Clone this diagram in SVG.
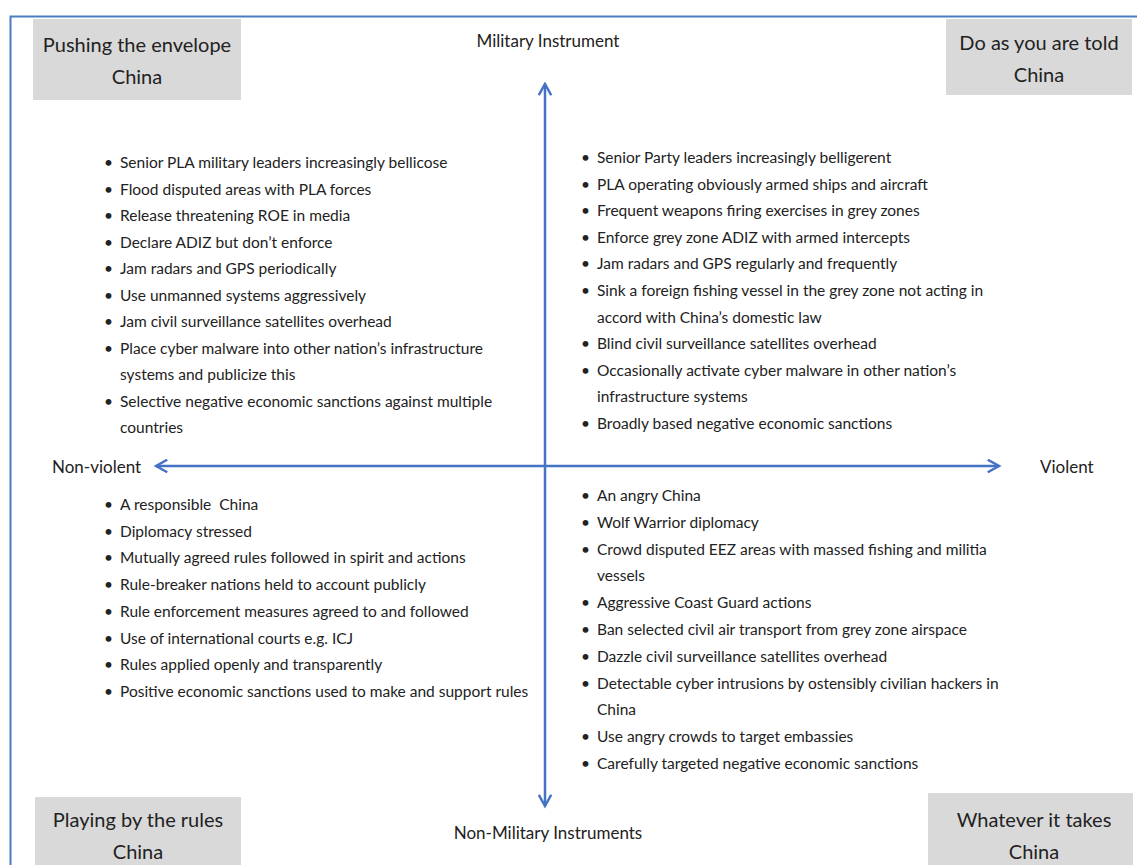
<svg xmlns="http://www.w3.org/2000/svg" width="1137" height="865" viewBox="0 0 1137 865">
  <style>
    text { font-family: Lato, "Open Sans", sans-serif; fill: #222222; }
    .item { font-size: 15.5px; }
    .axis-label { font-size: 17px; }
    .title { font-size: 20px; text-anchor: middle; }
    .box { fill: #d9d9d9; }
    .axis { stroke: #4472c4; stroke-width: 2.5; fill: none; }
    .frame { stroke: #4a7cc0; stroke-width: 2; fill: none; }
  </style>
  <defs>
    <marker id="arrow" viewBox="0 0 12 12" refX="10" refY="6" markerWidth="6" markerHeight="6" orient="auto-start-reverse" markerUnits="strokeWidth">
      <path d="M1,1 L10,6 L1,11" fill="none" stroke="#4472c4" stroke-width="2" stroke-linejoin="miter"/>
    </marker>
  </defs>

  <rect width="1137" height="865" fill="#ffffff"/>

  <!-- outer frame (top and left edges) -->
  <path class="frame" d="M10.5,865 V16.5 H1137"/>

  <!-- axes -->
  <g id="connectors">
    <line class="axis" x1="545" y1="806" x2="545" y2="84" marker-end="url(#arrow)" marker-start="url(#arrow)"/>
    <line class="axis" x1="156" y1="466" x2="999" y2="466" marker-end="url(#arrow)" marker-start="url(#arrow)"/>
  </g>

  <!-- axis labels -->
  <g id="label-military">
    <text class="axis-label" x="548" y="47" text-anchor="middle">Military Instrument</text>
  </g>
  <g id="label-nonmilitary">
    <text class="axis-label" x="548" y="839" text-anchor="middle">Non-Military Instruments</text>
  </g>
  <g id="label-nonviolent">
    <text class="axis-label" x="52" y="473">Non-violent</text>
  </g>
  <g id="label-violent">
    <text class="axis-label" x="1040" y="473">Violent</text>
  </g>

  <!-- quadrant titles -->
  <g id="title-pushing">
    <rect class="box" x="33" y="19" width="208" height="81"/>
    <text class="title" x="137" y="52">Pushing the envelope</text>
    <text class="title" x="137" y="84">China</text>
  </g>
  <g id="title-told">
    <rect class="box" x="946" y="19" width="186" height="76"/>
    <text class="title" x="1039" y="50">Do as you are told</text>
    <text class="title" x="1039" y="82">China</text>
  </g>
  <g id="title-rules">
    <rect class="box" x="35" y="797" width="206" height="70"/>
    <text class="title" x="138" y="827">Playing by the rules</text>
    <text class="title" x="138" y="859">China</text>
  </g>
  <g id="title-whatever">
    <rect class="box" x="928" y="793" width="205" height="74"/>
    <text class="title" x="1034" y="827">Whatever it takes</text>
    <text class="title" x="1034" y="859">China</text>
  </g>

  <!-- upper-left list -->
  <g id="list-pushing" class="item">
    <text x="104" y="168">•</text><text x="120" y="168">Senior PLA military leaders increasingly bellicose</text>
    <text x="104" y="194.5">•</text><text x="120" y="194.5">Flood disputed areas with PLA forces</text>
    <text x="104" y="221">•</text><text x="120" y="221">Release threatening ROE in media</text>
    <text x="104" y="247.5">•</text><text x="120" y="247.5">Declare ADIZ but don’t enforce</text>
    <text x="104" y="274">•</text><text x="120" y="274">Jam radars and GPS periodically</text>
    <text x="104" y="300.5">•</text><text x="120" y="300.5">Use unmanned systems aggressively</text>
    <text x="104" y="327">•</text><text x="120" y="327">Jam civil surveillance satellites overhead</text>
    <text x="104" y="353.5">•</text><text x="120" y="353.5">Place cyber malware into other nation’s infrastructure</text>
    <text x="120" y="380">systems and publicize this</text>
    <text x="104" y="406.5">•</text><text x="120" y="406.5">Selective negative economic sanctions against multiple</text>
    <text x="120" y="433">countries</text>
  </g>

  <!-- upper-right list -->
  <g id="list-told" class="item">
    <text x="581" y="163">•</text><text x="597" y="163">Senior Party leaders increasingly belligerent</text>
    <text x="581" y="189.6">•</text><text x="597" y="189.6">PLA operating obviously armed ships and aircraft</text>
    <text x="581" y="216.2">•</text><text x="597" y="216.2">Frequent weapons firing exercises in grey zones</text>
    <text x="581" y="242.8">•</text><text x="597" y="242.8">Enforce grey zone ADIZ with armed intercepts</text>
    <text x="581" y="269.4">•</text><text x="597" y="269.4">Jam radars and GPS regularly and frequently</text>
    <text x="581" y="296">•</text><text x="597" y="296">Sink a foreign fishing vessel in the grey zone not acting in</text>
    <text x="597" y="322.6">accord with China’s domestic law</text>
    <text x="581" y="349.2">•</text><text x="597" y="349.2">Blind civil surveillance satellites overhead</text>
    <text x="581" y="375.8">•</text><text x="597" y="375.8">Occasionally activate cyber malware in other nation’s</text>
    <text x="597" y="402.4">infrastructure systems</text>
    <text x="581" y="429">•</text><text x="597" y="429">Broadly based negative economic sanctions</text>
  </g>

  <!-- lower-left list -->
  <g id="list-rules" class="item">
    <text x="104" y="510">•</text><text x="120" y="510">A responsible&#160; China</text>
    <text x="104" y="536.7">•</text><text x="120" y="536.7">Diplomacy stressed</text>
    <text x="104" y="563.4">•</text><text x="120" y="563.4">Mutually agreed rules followed in spirit and actions</text>
    <text x="104" y="590.1">•</text><text x="120" y="590.1">Rule-breaker nations held to account publicly</text>
    <text x="104" y="616.8">•</text><text x="120" y="616.8">Rule enforcement measures agreed to and followed</text>
    <text x="104" y="643.5">•</text><text x="120" y="643.5">Use of international courts e.g. ICJ</text>
    <text x="104" y="670.2">•</text><text x="120" y="670.2">Rules applied openly and transparently</text>
    <text x="104" y="696.9">•</text><text x="120" y="696.9">Positive economic sanctions used to make and support rules</text>
  </g>

  <!-- lower-right list -->
  <g id="list-whatever" class="item">
    <text x="581" y="501">•</text><text x="597" y="501">An angry China</text>
    <text x="581" y="527.8">•</text><text x="597" y="527.8">Wolf Warrior diplomacy</text>
    <text x="581" y="554.6">•</text><text x="597" y="554.6">Crowd disputed EEZ areas with massed fishing and militia</text>
    <text x="597" y="581.4">vessels</text>
    <text x="581" y="608.2">•</text><text x="597" y="608.2">Aggressive Coast Guard actions</text>
    <text x="581" y="635">•</text><text x="597" y="635">Ban selected civil air transport from grey zone airspace</text>
    <text x="581" y="661.8">•</text><text x="597" y="661.8">Dazzle civil surveillance satellites overhead</text>
    <text x="581" y="688.6">•</text><text x="597" y="688.6">Detectable cyber intrusions by ostensibly civilian hackers in</text>
    <text x="597" y="715.4">China</text>
    <text x="581" y="742.2">•</text><text x="597" y="742.2">Use angry crowds to target embassies</text>
    <text x="581" y="769">•</text><text x="597" y="769">Carefully targeted negative economic sanctions</text>
  </g>
</svg>
